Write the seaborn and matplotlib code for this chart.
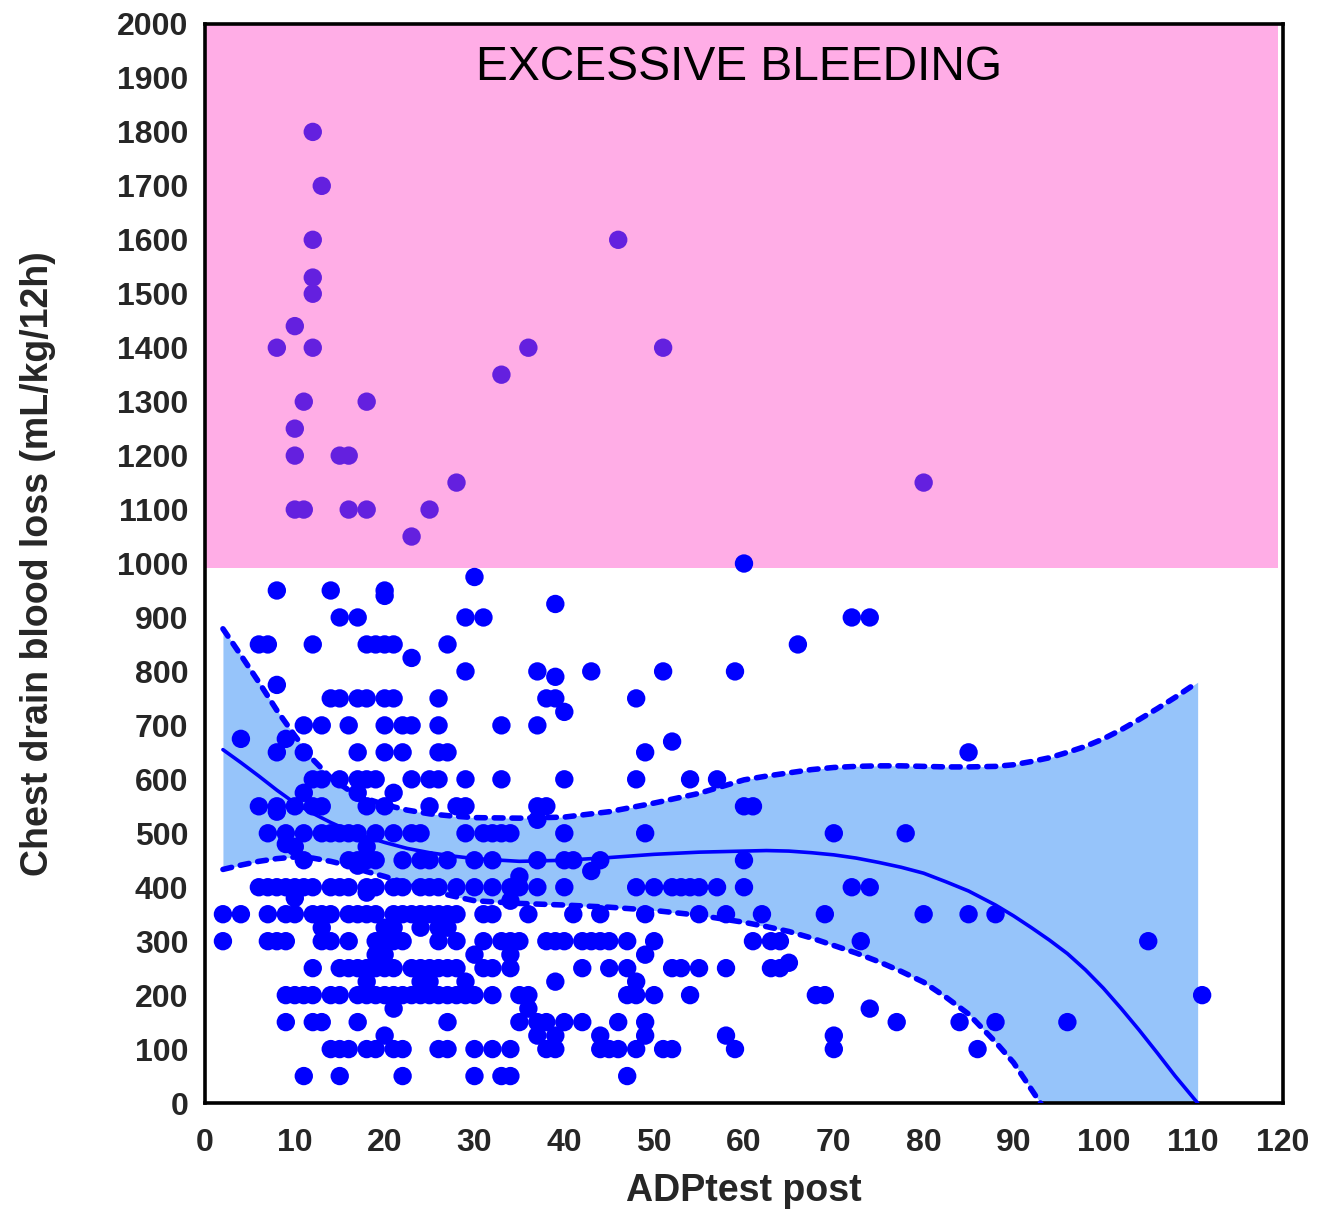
import numpy as np
import pandas as pd
import matplotlib
matplotlib.use("Agg")
import matplotlib.pyplot as plt
import seaborn as sns

# ---------------- data ----------------
loss_levels = [1800, 1700, 1600, 1530, 1500, 1440, 1400, 1350, 1300, 1250, 1200,
               1150, 1100, 1050, 1000, 975, 950, 940, 925, 900, 850, 825, 800, 790,
               775, 750, 725, 700, 675, 670, 650, 600, 575, 550, 540, 525, 500, 480,
               475, 450, 440, 430, 420, 400, 390, 380, 375, 350, 325, 300, 275, 260,
               250, 225, 200, 175, 150, 125, 100, 50]
adp_at_level = [
    [12], [13], [12, 46], [12], [12], [10], [8, 12, 36, 51], [33], [11, 18], [10],
    [10, 15, 16], [28, 80], [10, 11, 16, 18, 25], [23], [60], [30], [8, 14, 20], [20],
    [39], [15, 17, 29, 31, 72, 74], [6, 7, 12, 18, 19, 20, 21, 27, 66], [23],
    [29, 37, 43, 51, 59], [39], [8], [14, 15, 17, 18, 20, 21, 26, 38, 39, 48], [40],
    [11, 13, 16, 20, 22, 23, 26, 33, 37], [4, 9], [52],
    [8, 11, 17, 20, 22, 26, 27, 49, 85],
    [12, 13, 15, 17, 18, 19, 23, 25, 26, 29, 33, 40, 48, 54, 57], [11, 17, 21],
    [6, 8, 10, 12, 13, 18, 20, 25, 28, 29, 37, 38, 60, 61], [8], [37],
    [7, 9, 11, 13, 14, 15, 16, 17, 19, 21, 23, 24, 29, 31, 32, 33, 34, 40, 49, 70, 78],
    [9], [10, 18],
    [11, 16, 17, 18, 19, 22, 24, 25, 27, 30, 32, 37, 40, 41, 44, 60], [17], [43], [35],
    [6, 7, 8, 9, 10, 11, 12, 14, 15, 16, 18, 19, 21, 22, 24, 25, 26, 28, 30, 32, 34,
     35, 37, 40, 48, 50, 52, 53, 54, 55, 57, 60, 72, 74],
    [18], [10], [34],
    [2, 4, 7, 9, 10, 12, 13, 14, 16, 17, 18, 19, 21, 22, 23, 24, 25, 26, 27, 28, 31,
     32, 36, 41, 44, 49, 55, 58, 62, 69, 80, 85, 88],
    [13, 20, 21, 24, 26, 27],
    [2, 7, 8, 9, 13, 14, 16, 19, 20, 21, 22, 26, 28, 31, 33, 34, 35, 38, 39, 40, 42,
     43, 44, 45, 47, 50, 61, 63, 64, 73, 105],
    [19, 20, 30, 34, 49], [65],
    [12, 15, 16, 17, 18, 19, 20, 21, 23, 24, 25, 26, 27, 28, 31, 32, 34, 42, 45, 47,
     52, 53, 55, 58, 63, 64],
    [18, 24, 25, 29, 39, 48],
    [9, 10, 11, 12, 14, 15, 17, 18, 19, 20, 21, 22, 23, 24, 25, 26, 27, 28, 29, 30,
     32, 35, 36, 47, 48, 50, 54, 68, 69, 111],
    [21, 36, 74],
    [9, 12, 13, 17, 27, 35, 37, 38, 40, 42, 46, 49, 77, 84, 88, 96],
    [20, 37, 39, 44, 49, 58, 70],
    [14, 15, 16, 18, 19, 21, 22, 26, 27, 30, 32, 34, 38, 39, 44, 45, 46, 48, 51, 52,
     59, 70, 86],
    [11, 15, 22, 30, 33, 34, 47],
]

# regression curve and its confidence band
fit_x = [2, 4, 6, 8, 10, 12, 14, 16, 18, 20, 22.5, 25, 27.5, 30, 35, 40, 45, 50, 55,
         60, 62.5, 65, 67.5, 70, 72.5, 75, 77.5, 80, 82.5, 85, 88, 90, 92, 94, 96,
         98, 100, 102, 104, 106, 108, 110.5]
fit_y = [655, 631, 606, 580, 556, 537, 520, 505, 493, 483, 472, 464, 458, 453, 448,
         450, 455, 461, 465, 467, 468, 467, 464, 460, 454, 446, 437, 426, 410, 393,
         367, 347, 325, 302, 277, 247, 213, 175, 135, 93, 50, 0]
band_upper = [879, 830, 780, 728, 681, 637, 603, 580, 564, 553, 543, 536, 532, 529,
              528, 530, 540, 556, 574, 599, 606, 612, 618, 622, 624, 625, 625, 624,
              623, 623, 624, 627, 633, 640, 650, 661, 675, 692, 711, 731, 752, 780]
band_lower = [433, 441, 448, 453, 456, 454, 448, 440, 429, 420, 407, 394, 384, 375,
              370, 367, 363, 357, 348, 335, 327, 318, 306, 292, 278, 262, 244, 224,
              196, 165, 113, 75, 25, -25, -80, -140, -200, -265, -335, -410, -490,
              -590]

x_ticks = list(range(0, 121, 10))
y_ticks = list(range(0, 2001, 100))
zone_label = "EXCESSIVE BLEEDING"
x_label = "ADPtest post"
y_label = "Chest drain blood loss (mL/kg/12h)"
zone_floor = 991

# ---------------- build tables ----------------
pts = pd.DataFrame(
    [(x, y) for y, xs in zip(loss_levels, adp_at_level) for x in xs],
    columns=["adp", "loss"],
)
pts["zone"] = np.where(pts["loss"] > zone_floor + 10, "excess", "normal")
fit = pd.DataFrame({"x": fit_x, "fit": fit_y, "up": band_upper, "lo": band_lower})

# ---------------- figure ----------------
sns.set_style("white")
plt.rcParams["font.family"] = ["Liberation Sans", "DejaVu Sans"]

fig = plt.figure(figsize=(13.19, 12.12), dpi=100)
ax = fig.add_axes([0.1554, 0.0899, 0.8173, 0.8903])

blue = "#0000ff"
ax.fill_between(fit["x"], fit["lo"], fit["up"], color="#96c4fa", lw=0, zorder=1)

# pink "excessive bleeding" zone
ax.axhspan(zone_floor, 2000, xmin=0, xmax=0.995, color="#ffade6", lw=0, zorder=0.5)

sns.scatterplot(data=pts, x="adp", y="loss", hue="zone", ax=ax,
                palette={"normal": blue, "excess": "#6420df"}, s=175,
                linewidth=0, zorder=3, legend=False)

sns.lineplot(data=fit, x="x", y="fit", ax=ax, color=blue, lw=2.6, zorder=4,
             sort=True)
for col in ["up", "lo"]:
    ln, = ax.plot(fit["x"], fit[col], color=blue, lw=4.0, zorder=4)
    ln.set_dashes([1.6, 1.6])
    ln.set_dash_capstyle("round")

ax.text(59.5, 1920, zone_label, ha="center", va="center", fontsize=34.5,
        color="black", zorder=6)

ax.set_xlim(0, 120)
ax.set_ylim(0, 2000)
ax.set_xticks(x_ticks)
ax.set_yticks(y_ticks)
ax.set_xticklabels([str(t) for t in x_ticks], fontsize=23, fontweight="bold")
ax.set_yticklabels([str(t) for t in y_ticks], fontsize=23, fontweight="bold")
ax.tick_params(axis="both", direction="out", length=11, width=2.6, color="black")
ax.tick_params(axis="x", pad=7)
ax.tick_params(axis="y", pad=1)
ax.set_xlabel(x_label, fontsize=27, fontweight="bold", labelpad=11)
ax.set_ylabel(y_label, fontsize=27, fontweight="bold", labelpad=44)

for sp in ax.spines.values():
    sp.set_visible(True)
    sp.set_color("black")
    sp.set_linewidth(2.6)

fig.savefig("out.png", dpi=100)
